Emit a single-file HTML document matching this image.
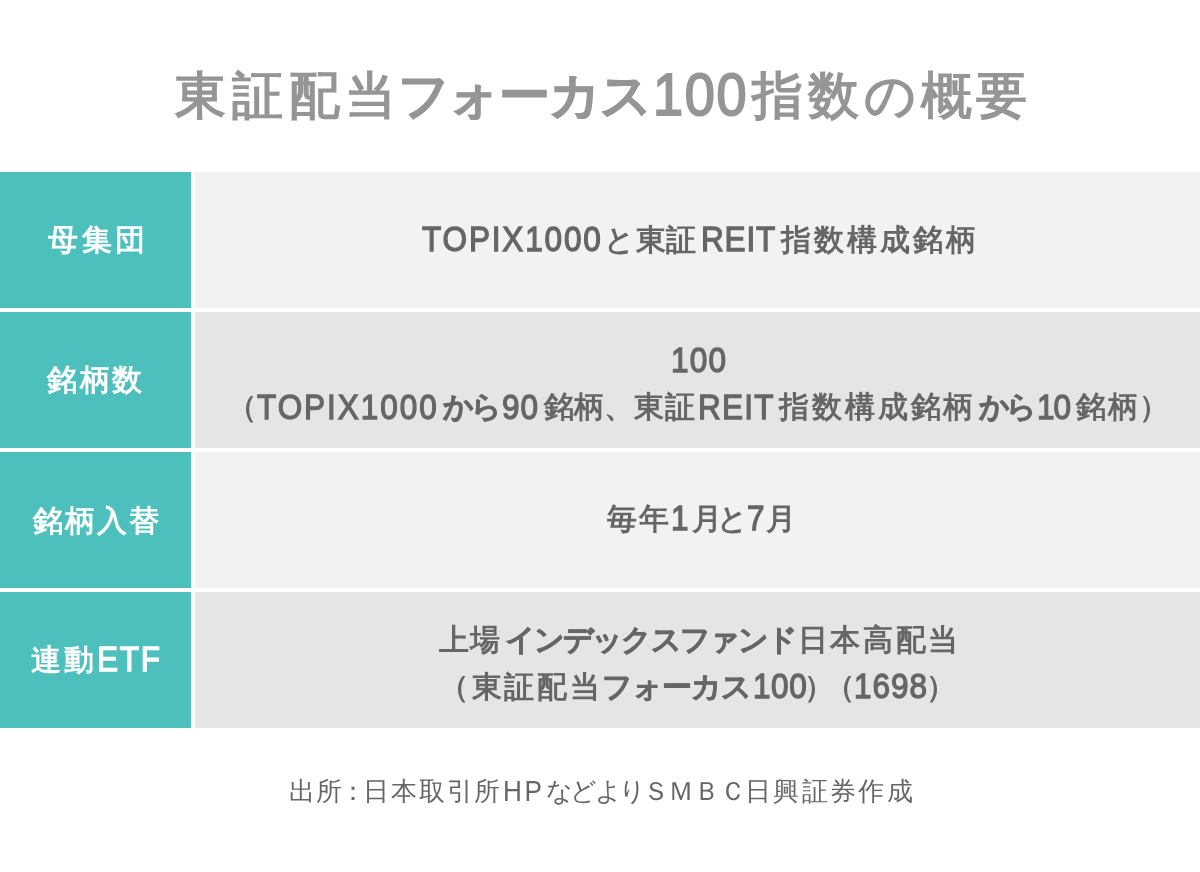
<!DOCTYPE html>
<html lang="ja">
<head>
<meta charset="utf-8">
<style>
html,body{margin:0;padding:0;}
body{width:1200px;height:872px;background:#fff;position:relative;overflow:hidden;font-family:"Liberation Sans", sans-serif;font-weight:bold;}
.ln{position:absolute;white-space:nowrap;line-height:1;will-change:transform;}
.en{font-weight:normal;-webkit-text-stroke:1.3px currentColor;line-height:0;}
.title{color:#959595;}
.cell{position:absolute;height:136px;}
.lab{left:0;width:191px;background:#4dbfbd;}
.val{left:195px;width:1005px;}
.l{background:#f2f2f2;}
.d{background:#e5e5e5;}
.lt{color:#fff;}
.vt{color:#666;}
.src{color:#666;font-weight:normal;}
.src .en{-webkit-text-stroke:0;}
.kana{-webkit-text-stroke:0.6px currentColor;}
.src .kana{-webkit-text-stroke:0;}
.title .en{-webkit-text-stroke:2px currentColor;}
.title .kana{-webkit-text-stroke:1px currentColor;}
</style>
</head>
<body>
<div class="cell lab" style="top:172px"></div>
<div class="cell val l" style="top:172px"></div>
<div class="cell lab" style="top:312px"></div>
<div class="cell val d" style="top:312px"></div>
<div class="cell lab" style="top:452px"></div>
<div class="cell val l" style="top:452px"></div>
<div class="cell lab" style="top:592px"></div>
<div class="cell val d" style="top:592px"></div>
<div class="ln title" id="title" style="top:70.0px;left:174.5px;width:857.125px;text-align:center;font-size:51px"><span style="letter-spacing:5.83px">東証配当</span><span class="kana" style="letter-spacing:-1.17px;margin-left:-4.78px">フォーカス</span><span class="en" style="letter-spacing:1.85px;margin-left:2.28px;font-size:60px;position:relative;top:1.5px;display:inline-block;transform:scaleX(0.9);transform-origin:0 0">100</span><span style="letter-spacing:4.73px;margin-left:-6.2px">指数の概要</span></div>
<div class="ln lt" id="l1" style="top:224.8px;left:47.5px;width:100.5px;text-align:center;font-size:29.5px"><span style="letter-spacing:3.5px">母集団</span></div>
<div class="ln vt" id="v1" style="top:225.4px;left:421.6px;width:557.4219px;text-align:center;font-size:29.5px"><span class="en" style="letter-spacing:2.06px;font-size:35px;position:relative;top:0.5px;display:inline-block;transform:scaleX(0.9);transform-origin:0 0">TOPIX1000</span><span style="letter-spacing:0.51px;margin-left:-18.39px">と東証</span><span class="en" style="letter-spacing:0.93px;margin-left:3.67px;font-size:35px;position:relative;top:0.5px;display:inline-block;transform:scaleX(0.9);transform-origin:0 0">REIT</span><span style="letter-spacing:3.01px;margin-left:-2.71px">指数構成銘柄</span></div>
<div class="ln lt" id="l2" style="top:364.5px;left:47.4px;width:97.5px;text-align:center;font-size:29.5px"><span style="letter-spacing:2.5px">銘柄数</span></div>
<div class="ln vt" id="v2a" style="top:346.6px;left:670.6px;width:62.2969px;text-align:center;font-size:29.5px"><span class="en" style="letter-spacing:1.3px;font-size:35px;display:inline-block;transform:scaleX(0.9);transform-origin:0 0">100</span></div>
<div class="ln vt" id="v2b" style="top:391.8px;left:226.94px;width:944.0625px;text-align:center;font-size:29.5px"><span style="letter-spacing:1.0px">（</span><span class="en" style="letter-spacing:2.18px;margin-left:-1.44px;font-size:35px;position:relative;top:2px;display:inline-block;transform:scaleX(0.9);transform-origin:0 0">TOPIX1000</span><span class="kana" style="letter-spacing:-3.0px;margin-left:-15.62px">から</span><span class="en" style="letter-spacing:0.98px;margin-left:3.65px;font-size:35px;position:relative;top:2px;display:inline-block;transform:scaleX(0.9);transform-origin:0 0">90</span><span style="letter-spacing:0.25px;margin-left:0.23px">銘柄、東証</span><span class="en" style="letter-spacing:1.34px;margin-left:2.76px;font-size:35px;position:relative;top:2px;display:inline-block;transform:scaleX(0.9);transform-origin:0 0">REIT</span><span style="letter-spacing:2.92px;margin-left:-3.82px">指数構成銘柄</span><span class="kana" style="letter-spacing:-4.2px;margin-left:2.49px">から</span><span class="en" style="letter-spacing:-1.21px;margin-left:4.8px;font-size:35px;position:relative;top:2px;display:inline-block;transform:scaleX(0.9);transform-origin:0 0">10</span><span style="letter-spacing:1.65px;margin-left:2.3px">銘柄）</span></div>
<div class="ln lt" id="l3" style="top:505.5px;left:32.5px;width:127.4531px;text-align:center;font-size:29.5px"><span style="letter-spacing:1.86px">銘柄入替</span></div>
<div class="ln vt" id="v3" style="top:504.2px;left:607.1px;width:187px;text-align:center;font-size:29.5px"><span style="letter-spacing:1.53px">毎年</span><span class="en" style="letter-spacing:0.5px;margin-left:0.92px;font-size:35px;position:relative;top:1px;display:inline-block;transform:scaleX(0.9);transform-origin:0 0">1</span><span style="letter-spacing:-4.56px;margin-left:1.1px">月と</span><span class="en" style="letter-spacing:0.5px;margin-left:2.85px;font-size:35px;position:relative;top:1px;display:inline-block;transform:scaleX(0.9);transform-origin:0 0">7</span><span style="letter-spacing:-1.53px;margin-left:-1.22px">月</span></div>
<div class="ln lt" id="l4" style="top:645.0px;left:30.9px;width:138.2344px;text-align:center;font-size:29.5px"><span style="letter-spacing:2.54px">連動</span><span class="en" style="letter-spacing:1.89px;margin-left:1.36px;font-size:35px;position:relative;top:1px;display:inline-block;transform:scaleX(0.9);transform-origin:0 0">ETF</span></div>
<div class="ln vt" id="v4a" style="top:625.4px;left:439.3px;width:521.7656px;text-align:center;font-size:29.5px"><span style="letter-spacing:1.48px">上場</span><span class="kana" style="letter-spacing:-1.87px;margin-left:2.95px">インデックスファンド</span><span style="letter-spacing:2.6px;margin-left:1.55px">日本高配当</span></div>
<div class="ln vt" id="v4b" style="top:672.3px;left:439.19px;width:517.7656px;text-align:center;font-size:29.5px"><span style="letter-spacing:2.69px">（東証配当</span><span class="kana" style="letter-spacing:-1.09px;margin-left:0.03px">フォーカス</span><span class="en" style="letter-spacing:0.67px;margin-left:1.61px;font-size:35px;position:relative;top:1px;display:inline-block;transform:scaleX(0.9);transform-origin:0 0">100</span><span style="letter-spacing:-9.32px;margin-left:-8.57px">）（</span><span class="en" style="letter-spacing:1.05px;margin-left:8.25px;font-size:35px;position:relative;top:1px;display:inline-block;transform:scaleX(0.9);transform-origin:0 0">1698</span><span style="letter-spacing:1.0px;margin-left:-10.41px">）</span></div>
<div class="ln src" id="src" style="top:779.0px;left:288.8px;width:626.1875px;text-align:center;font-size:25.5px"><span style="letter-spacing:1.0px">出所</span><span style="letter-spacing:1.0px;margin-left:-3.46px">：</span><span style="letter-spacing:1.99px;margin-left:-4.03px">日本取引所</span><span class="en" style="letter-spacing:2.9px;margin-left:0.39px;font-size:29px;position:relative;top:1px;display:inline-block;transform:scaleX(0.9);transform-origin:0 0">HP</span><span class="kana" style="letter-spacing:-2.6px;margin-left:-3.21px">などより</span><span style="letter-spacing:-0.23px;margin-left:-0.65px">ＳＭＢＣ</span><span style="letter-spacing:2.4px;margin-left:-1.04px">日興証券作成</span></div>
</body>
</html>
